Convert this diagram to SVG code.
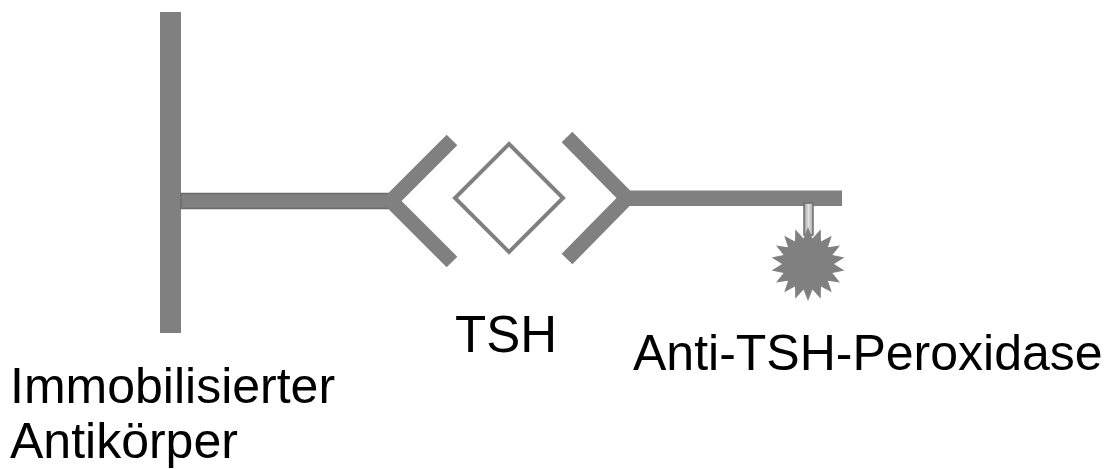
<svg xmlns="http://www.w3.org/2000/svg" width="1114" height="469" viewBox="0 0 1114 469">
  <style>
    .bar { fill: #808080; }
    .arm { fill: none; stroke: #808080; stroke-width: 15; stroke-linejoin: miter; stroke-linecap: butt; }
    .label { font-family: "Liberation Sans", Arial, sans-serif; font-size: 50px; fill: #000; }
  </style>
  <defs>
    <linearGradient id="linkGrad" x1="0" y1="0" x2="1" y2="0">
      <stop offset="0" stop-color="#9a9a9a"/>
      <stop offset="0.5" stop-color="#e2e2e2"/>
      <stop offset="1" stop-color="#a8a8a8"/>
    </linearGradient>
  </defs>

  <!-- surface-bound capture antibody -->
  <g id="immobilized-antibody">
    <rect class="bar" x="160" y="12" width="21" height="321"/>
    <rect x="181" y="193.5" width="212" height="15" fill="#808080" stroke="#6a6a6a" stroke-width="1.5"/>
    <polyline class="arm" points="452,140 391,201 452,262"/>
    <text class="label" x="10" y="403">Immobilisierter</text>
    <text class="label" x="10" y="458">Antikörper</text>
  </g>

  <!-- antigen -->
  <g id="tsh">
    <polygon points="509,144 563,198 509,252 455,198" fill="#fff" stroke="#808080" stroke-width="4"/>
    <text class="label" x="455" y="352" style="font-size:51px">TSH</text>
  </g>

  <!-- enzyme-labelled detection antibody -->
  <g id="anti-tsh-peroxidase">
    <polyline class="arm" points="567,137 627,198 567,259"/>
    <rect class="bar" x="623" y="190.5" width="219" height="15.5"/>
    <rect x="804" y="203" width="9" height="32" fill="url(#linkGrad)" stroke="#6e6e6e" stroke-width="1.5"/>
    <!-- 18-point starburst marking the peroxidase label (R 37, r 26) -->
    <polygon id="peroxidase" fill="#808080" points="808,227 812.5,238.4 820.7,229.2 821,241.5 831.8,235.7 827.9,247.3 840,245.5 832.4,255.1 844.4,257.6 834,264 844.4,270.4 832.4,272.9 840,282.5 827.9,280.7 831.8,292.3 821,286.5 820.7,298.8 812.5,289.6 808,301 803.5,289.6 795.3,298.8 795,286.5 784.2,292.3 788.1,280.7 776,282.5 783.6,272.9 771.6,270.4 782,264 771.6,257.6 783.6,255.1 776,245.5 788.1,247.3 784.2,235.7 795,241.5 795.3,229.2 803.5,238.4"/>
    <text class="label" x="633" y="370">Anti-TSH-Peroxidase</text>
  </g>

  <g id="connectors"></g>
</svg>
